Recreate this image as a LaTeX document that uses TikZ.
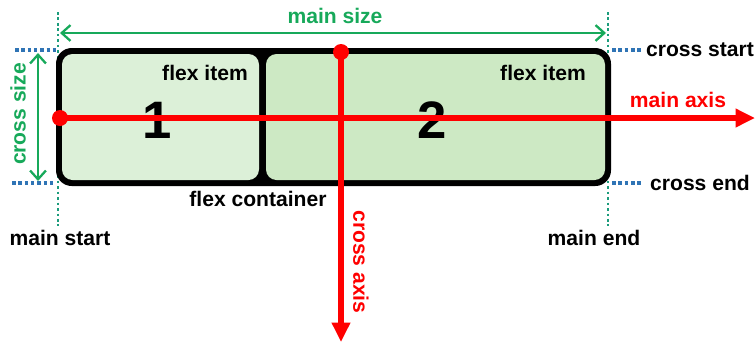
\documentclass[tikz,border=0pt]{standalone}
\usepackage{fontspec}
\setmainfont{Liberation Sans}
\usetikzlibrary{arrows.meta}

\definecolor{itemone}{HTML}{DCF0D8}
\definecolor{itemtwo}{HTML}{CDE9C4}
\definecolor{sizegreen}{HTML}{17A95A}
\definecolor{guideteal}{HTML}{1C9C7C}
\definecolor{guideblue}{HTML}{2F74B5}

\tikzset{
    lbl/.style={font=\bfseries\fontsize{12}{14}\selectfont, inner sep=0pt},
    redlbl/.style={lbl, text=red},
    greenlbl/.style={lbl, text=sizegreen},
    numlbl/.style={font=\bfseries\fontsize{30}{32}\selectfont, inner sep=0pt},
    axisline/.style={red, line width=3pt, -{Triangle[length=11pt,width=10pt]}},
    sizeline/.style={sizegreen, line width=1.3pt, {Straight Barb[length=5pt,width=9pt]}-{Straight Barb[length=5pt,width=9pt]}},
    tealguide/.style={guideteal, line width=1.4pt, dash pattern=on 1.5pt off 1.6pt},
    blueguide/.style={guideblue, line width=1.8pt, dash pattern=on 2pt off 1.6pt},
}

\begin{document}
\begin{tikzpicture}[x=0.02cm, y=-0.02cm]
    \useasboundingbox (0,0) rectangle (756,343);

    % Guide lines (main start / main end)
    \draw[tealguide] (58,12) -- (58,226);
    \draw[tealguide] (608,12) -- (608,226);

    % Guide lines (cross start / cross end)
    \draw[blueguide] (15,50) -- (56,50);
    \draw[blueguide] (12,183) -- (56,183);
    \draw[blueguide] (612,50) -- (643,50);
    \draw[blueguide] (612,183) -- (643,183);

    % Flex container and items
    \fill[black, rounded corners=9] (56,48) rectangle (611,186);
    \fill[itemone, rounded corners=6] (62,54) rectangle (259,180);
    \fill[itemtwo, rounded corners=6] (266,54) rectangle (605,180);

    \node[lbl] (itemA) at (205,73) {flex item};
    \node[lbl] (itemB) at (543,73) {flex item};
    \node[numlbl] (one) at (157,120) {1};
    \node[numlbl] (two) at (432,120) {2};
    \node[lbl] (container) at (258,199) {flex container};

    % Main axis
    \coordinate (mainfrom) at (60,118);
    \coordinate (mainto) at (755,118);
    \draw[axisline] (mainfrom) -- (mainto);
    \fill[red] (mainfrom) circle (8);
    \node[redlbl] (mainaxis) at (678,100) {main axis};

    % Cross axis
    \coordinate (crossfrom) at (341,52);
    \coordinate (crossto) at (341,342);
    \draw[axisline] (crossfrom) -- (crossto);
    \fill[red] (crossfrom) circle (8);
    \node[redlbl, rotate=-90] (crossaxis) at (361,262) {cross axis};

    % Main size
    \coordinate (sizeleft) at (60,33);
    \coordinate (sizeright) at (606,33);
    \draw[sizeline] (sizeleft) -- (sizeright);
    \node[greenlbl] (mainsize) at (335,16) {main size};

    % Cross size
    \coordinate (sizetop) at (38,53);
    \coordinate (sizebottom) at (38,181);
    \draw[sizeline] (sizetop) -- (sizebottom);
    \node[greenlbl, rotate=90] (crosssize) at (18,114) {cross size};

    % End labels
    \node[lbl] (crossstart) at (700,50) {cross start};
    \node[lbl] (crossend) at (700,183) {cross end};
    \node[lbl] (mainstart) at (60,238) {main start};
    \node[lbl] (mainend) at (594,238) {main end};
\end{tikzpicture}
\end{document}
